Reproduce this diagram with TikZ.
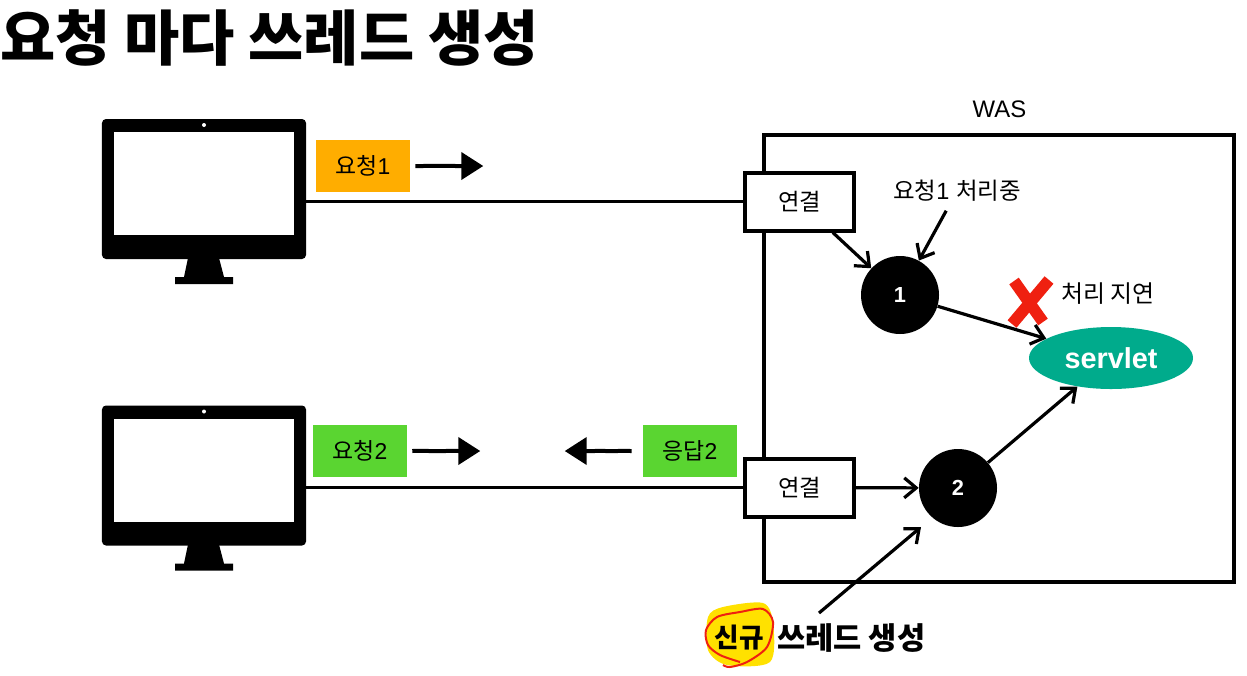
\documentclass[tikz,border=0pt]{standalone}
\usepackage{fontspec}
\setmainfont{Liberation Sans}
\newfontfamily\krfont{Noto Sans CJK KR}
\usetikzlibrary{calc,positioning,shapes.geometric,arrows.meta,decorations.pathmorphing}
\definecolor{reqorange}{HTML}{FFAD00}
\definecolor{reqgreen}{HTML}{5AD531}
\definecolor{servgreen}{HTML}{00AB8C}
\definecolor{xred}{HTML}{EF2010}
\definecolor{markyellow}{HTML}{FFE100}
\newcommand{\fsize}[1]{\fontsize{#1}{#1}\selectfont}
\tikzset{
	wire/.style={line width=0.8mm,black},
	arr/.style={wire,-{Straight Barb[length=3mm,width=5mm,line width=0.8mm]}},
	roughar/.style={line width=1mm,black,-{Triangle[length=5.5mm,width=6.75mm]},decorate,decoration={random steps,segment length=1.5mm,amplitude=0.06mm,post length=5.5mm}},
	connbox/.style={draw,fill=white,line width=1mm,minimum width=27.25mm,minimum height=14.5mm,inner sep=0pt,font=\fsize{16.6}\krfont},
	reqbox/.style={minimum width=23.5mm,minimum height=13mm,inner sep=0pt,font=\fsize{16.3}},
	thread/.style={circle,fill=black,text=white,minimum size=19.5mm,inner sep=0pt,font=\fsize{15.5}\bfseries},
	note/.style={inner sep=0pt,font=\fsize{16.7}},
}
\begin{document}
\begin{tikzpicture}[x=0.25mm,y=-0.25mm]
	%\draw[color=gray,step=50,help lines,opacity=0.3] (0,0) grid (1247,675); %help grids
	\useasboundingbox (0,0) rectangle (1247,675);
	\node[anchor=west,inner sep=0pt,font=\fsize{42.7}\krfont\bfseries] (title) at (0,38) {요청 마다 쓰레드 생성};

	\draw[line width=1mm] (764,135) rectangle (1234,582);
	\node[note,font=\fsize{17}] (was) at (999.5,109) {WAS};

	% monitors
	\foreach \n/\ypos in {1/189,2/475.5}{
		\fill (188,\ypos+69)--(219,\ypos+69)--(224,\ypos+88)--(233,\ypos+88)--(233,\ypos+95)--(175,\ypos+95)--(175,\ypos+88)--(184,\ypos+88)-- cycle;
		\node[fill=black,rounded corners=1mm,minimum width=51mm,minimum height=35mm,inner sep=0pt] (pc\n) at (204,\ypos) {};
		\node[fill=white,minimum width=45mm,minimum height=25.75mm,inner sep=0pt] (screen\n) at (204,\ypos-5.5) {};
		\fill[white] (204,\ypos-64) circle [radius=0.5mm];
	}

	\node[connbox] (conn1) at (799.5,201.5) {연결};
	\node[connbox] (conn2) at (799.5,487.5) {연결};
	\draw[wire] (conn1.west -| pc1.east)--(conn1.west);
	\draw[wire] (conn2.west -| pc2.east)--(conn2.west);

	\node[reqbox,fill=reqorange] (req1) at (363,166) {{\krfont 요청}1};
	\node[reqbox,fill=reqgreen] (req2) at (360,451) {{\krfont 요청}2};
	\node[reqbox,fill=reqgreen] (res2) at (690,451) {{\krfont 응답}2};
	\draw[roughar] ([xshift=1.25mm]req1.east)--([xshift=18.25mm]req1.east);
	\draw[roughar] ([xshift=1.25mm]req2.east)--([xshift=18.25mm]req2.east);
	\draw[roughar] ([xshift=-2.75mm]res2.west)--([xshift=-19.5mm]res2.west);

	\node[thread] (thread1) at (900,295) {1};
	\node[thread] (thread2) at (958,488) {2};
	\node[ellipse,fill=servgreen,text=white,minimum width=41mm,minimum height=15.5mm,inner sep=0pt,font=\fsize{20.5}\bfseries] (servlet) at (1111,358) {servlet};
	\node[note] (busy) at (957,191) {{\krfont 요청}1 {\krfont 처리중}};
	\node[note,font=\fsize{17}\krfont] (delay) at (1108,294) {처리 지연};

	\draw[arr] (conn1)--(thread1);
	\draw[arr,shorten <=2.5mm] (busy)--(thread1);
	\draw[arr] (thread1)--(servlet);
	\draw[arr] (conn2)--(thread2);
	\draw[arr] (thread2)--(servlet);

	% red cross
	\draw[xred,line width=2.9mm] (1014,281)--(1043,322);
	\draw[xred,line width=2.9mm] (1049,280)--(1012,324);

	% marker and scribble
	\fill[markyellow] plot[smooth cycle] coordinates {(708,617) (723,607) (763,603) (773,623) (770,662) (727,665) (708,650)};
	\draw[xred,line width=0.5mm] plot[smooth] coordinates {(740,662) (720,655) (708,645) (706,630) (717,617) (740,612) (763,609) (773,622) (767,647) (747,662) (730,667) (723,665)};
	\node[inner sep=0pt,font=\fsize{19}\krfont\bfseries] (newlabel) at (739,638) {신규};
	\node[inner sep=0pt,anchor=west,font=\fsize{21.8}\krfont\bfseries] (newthread) at (777,638) {쓰레드 생성};
	\coordinate (newtail) at (819,613);
	\coordinate (newtip) at (921,527);
	\draw[arr] (newtail)--(newtip);
\end{tikzpicture}
\end{document}
